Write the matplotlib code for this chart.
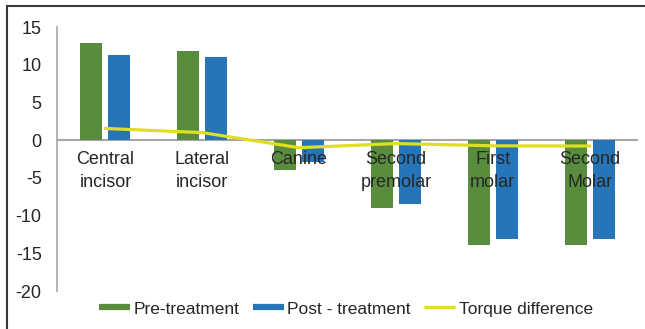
import numpy as np
import matplotlib
matplotlib.use("Agg")
import matplotlib.pyplot as plt
from matplotlib.lines import Line2D
from matplotlib.patches import Rectangle

# Torque values per tooth (degrees)
teeth = ["Central\nincisor", "Lateral\nincisor", "Canine", "Second\npremolar", "First\nmolar", "Second\nMolar"]
pre_treatment = [12.9, 11.8, -4.0, -9.0, -13.9, -13.9]
post_treatment = [11.3, 11.0, -2.9, -8.5, -13.1, -13.1]
torque_diff = [1.55, 1.0, -1.0, -0.45, -0.75, -0.78]
y_ticks = [15, 10, 5, 0, -5, -10, -15, -20]

green = "#598D3D"
blue = "#2675B9"
yellow = "#DEDE24"
text_col = "#262626"

plt.rcParams['font.family'] = ['Liberation Sans', 'DejaVu Sans']

W, H = 645, 329
fig = plt.figure(figsize=(W / 100, H / 100), dpi=100)
ax = fig.add_axes([57 / W, 1 - 291 / H, (638 - 57) / W, (291 - 27) / H])

# outer frame, running off the right and bottom edges
fig.patches.append(Rectangle((7 / W, -0.1), 1.2, 1 - 6 / H + 0.1, transform=fig.transFigure,
                             fill=False, edgecolor="#3a3a3a", linewidth=1.5))

x = np.arange(len(teeth))
bw = 0.227
off = 0.145
ax.bar(x - off, pre_treatment, bw, color=green, zorder=2)
ax.bar(x + off, post_treatment, bw, color=blue, zorder=2)
ax.plot(x, torque_diff, color=yellow, linewidth=2.3, zorder=3)

ax.set_xlim(-0.5, len(teeth) - 0.5)
ax.set_ylim(-20, 15)
ax.axhline(0, color="#a6a6a6", linewidth=1.5, zorder=1)

for s in ["top", "right", "bottom"]:
    ax.spines[s].set_visible(False)
ax.spines["left"].set_color("#a6a6a6")
ax.spines["left"].set_linewidth(1.2)

ax.set_xticks([])
ax.set_yticks(y_ticks)
ax.set_yticklabels([str(v) for v in y_ticks])
ax.tick_params(axis="y", length=0, pad=11, labelsize=13, labelcolor=text_col)

# category names sit just under the zero line, over the bars
for i, name in enumerate(teeth):
    ax.annotate(name, (i, 0), xytext=(0, -8), textcoords="offset points",
                ha="center", va="top", fontsize=13, color=text_col,
                linespacing=1.42, zorder=5)

handles = [
    Line2D([], [], color=green, linewidth=4.5, solid_capstyle="butt"),
    Line2D([], [], color=blue, linewidth=4.5, solid_capstyle="butt"),
    Line2D([], [], color=yellow, linewidth=2.3, solid_capstyle="butt"),
]
fig.legend(handles, ["Pre-treatment", "Post - treatment", "Torque difference"],
           loc="center", bbox_to_anchor=(346 / W, 1 - 309 / H), ncol=3, frameon=False,
           fontsize=12.5, handlelength=1.8, handletextpad=0.2, columnspacing=0.75,
           labelcolor=text_col)

fig.savefig("out.png", dpi=100)
